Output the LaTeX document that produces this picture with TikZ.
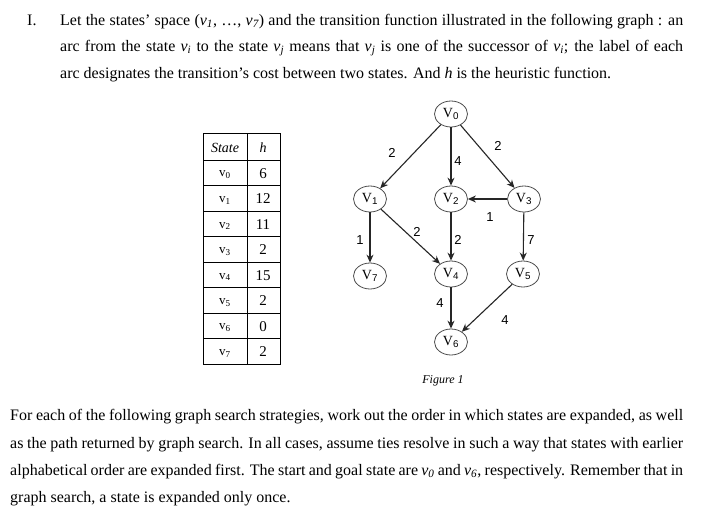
\documentclass[tikz,border=0pt]{standalone}
\usepackage{fontspec}
\setmainfont{Liberation Serif}
\newfontfamily\arialfont{Liberation Sans}
\usetikzlibrary{arrows.meta,shapes.geometric}
\begin{document}
\begin{tikzpicture}[x=1pt,y=-1pt,
  st/.style={draw=black!70, line width=0.8pt, ellipse, minimum width=33pt, minimum height=26pt, inner sep=0pt, font=\fontsize{14}{14}\selectfont},
  arc/.style={draw=black!85, line width=1.1pt, -{Stealth[length=8pt,width=7pt]}},
  lbl/.style={font=\arialfont\fontsize{13}{13}\selectfont, inner sep=0pt},
  txt/.style={anchor=base west, inner sep=0pt, font=\fontsize{16}{16}\selectfont},
  tab/.style={inner sep=0pt, font=\fontsize{14}{14}\selectfont},
  grid/.style={draw=black, line width=0.8pt}]
\useasboundingbox[fill=white] (0,0) rectangle (704,514);

% top paragraph
\node[txt] (num) at (27,25) {I.};
\node[txt] (t1) at (60,25) {\makebox[623pt][s]{Let the states’ space (\textit{v\textsubscript{1}}, …, \textit{v\textsubscript{7}}) and the transition function illustrated in the following graph : an}};
\node[txt] (t2) at (60,51) {\makebox[623pt][s]{arc from the state \textit{v\textsubscript{i}} to the state \textit{v\textsubscript{j}} means that \textit{v\textsubscript{j}} is one of the successor of \textit{v\textsubscript{i}}; the label of each}};
\node[txt] (t3) at (60,78) {arc designates the transition’s cost between two states. And \textit{h} is the heuristic function.};

% table
\draw[grid] (203,133) rectangle (280,364);
\draw[grid] (247,133) -- (247,364);
\foreach \k in {0,...,7} { \draw[grid] (203,{160+25.5*\k}) -- (280,{160+25.5*\k}); }
\node[tab] (hs) at (225,148) {\textit{State}};
\node[tab] (hh) at (263,148) {\textit{h}};
\foreach \i/\h in {0/6,1/12,2/11,3/2,4/15,5/2,6/0,7/2} {
  \node[tab, font=\fontsize{13}{13}\selectfont] (s\i) at (225,{175+25.5*\i}) {v\textsubscript{\i}};
  \node[tab, font=\fontsize{15}{15}\selectfont] (h\i) at (263,{173.5+25.5*\i}) {\h};
}

% graph
\node[st] (v0) at (451,114) {V\textsubscript{\arialfont 0}};
\node[st] (v1) at (370,199) {V\textsubscript{\arialfont 1}};
\node[st] (v2) at (451,199) {V\textsubscript{\arialfont 2}};
\node[st] (v3) at (524,199) {V\textsubscript{\arialfont 3}};
\node[st] (v7) at (370,276) {V\textsubscript{\arialfont 7}};
\node[st] (v4) at (451,274) {V\textsubscript{\arialfont 4}};
\node[st] (v5) at (523,274) {V\textsubscript{\arialfont 5}};
\node[st] (v6) at (451,342) {V\textsubscript{\arialfont 6}};

\draw[arc] (v0) -- (v1);
\draw[arc] (v0) -- (v2);
\draw[arc] (v0) -- (v3);
\draw[arc] (v3) -- (v2);
\draw[arc] (v1) -- (v7);
\draw[arc] (v1) -- (v4);
\draw[arc] (v2) -- (v4);
\draw[arc] (v3) -- (v5);
\draw[arc] (v4) -- (v6);
\draw[arc] (v5) -- (v6);

\node[lbl] (l01) at (392,153) {2};
\node[lbl] (l02) at (458,161) {4};
\node[lbl] (l03) at (498,146) {2};
\node[lbl] (l32) at (490,217) {1};
\node[lbl] (l17) at (360,240) {1};
\node[lbl] (l14) at (417,232) {2};
\node[lbl] (l24) at (458,240) {2};
\node[lbl] (l35) at (531,240) {7};
\node[lbl] (l46) at (440,303) {4};
\node[lbl] (l56) at (505,320) {4};

\node[inner sep=0pt, font=\itshape\fontsize{12}{12}\selectfont] (cap) at (443,381) {Figure 1};

% bottom paragraph
\node[txt] (b1) at (10,420) {\makebox[673pt][s]{For each of the following graph search strategies, work out the order in which states are expanded, as well}};
\node[txt] (b2) at (10,448) {\makebox[673pt][s]{as the path returned by graph search. In all cases, assume ties resolve in such a way that states with earlier}};
\node[txt] (b3) at (10,475) {\makebox[673pt][s]{alphabetical order are expanded first. The start and goal state are \textit{v\textsubscript{0}} and \textit{v\textsubscript{6}}, respectively. Remember that in}};
\node[txt] (b4) at (10,502) {graph search, a state is expanded only once.};
\end{tikzpicture}
\end{document}
